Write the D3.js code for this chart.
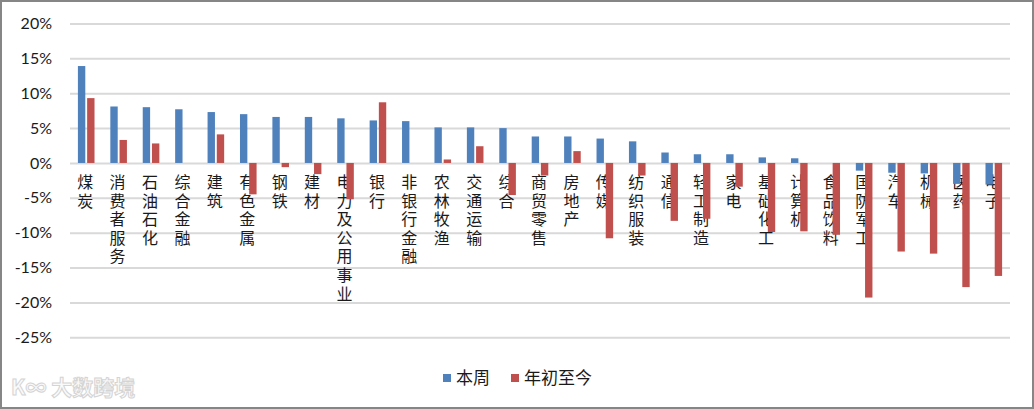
<!DOCTYPE html>
<html>
<head>
<meta charset="utf-8">
<script src="https://cdn.jsdelivr.net/npm/d3@7"></script>
<style>
  html, body { margin: 0; padding: 0; background: #fff; }
  svg { display: block; }
</style>
</head>
<body>
<svg id="chart" width="1034" height="409"></svg>
<script>
const categories = ["煤炭","消费者服务","石油石化","综合金融","建筑","有色金属","钢铁","建材","电力及公用事业","银行","非银行金融","农林牧渔","交通运输","综合","商贸零售","房地产","传媒","纺织服装","通信","轻工制造","家电","基础化工","计算机","食品饮料","国防军工","汽车","机械","医药","电子"];
const weekValues = [13.9,8.1,8.0,7.7,7.3,7.0,6.6,6.6,6.4,6.1,6.0,5.1,5.1,5.0,3.8,3.8,3.5,3.1,1.5,1.25,1.25,0.8,0.67,0.0,-1.1,-1.4,-1.5,-3.0,-3.1];
const ytdValues = [9.3,3.3,2.8,0.0,4.1,-4.5,-0.6,-1.6,-5.2,8.7,0.0,0.5,2.4,-4.6,-1.8,1.7,-10.8,-1.8,-8.3,-8.0,-3.4,-9.9,-9.8,-10.3,-19.3,-12.7,-13.0,-17.8,-16.2];
const seriesNames = ["本周","年初至今"];
const seriesColors = ["#4f81bd","#c0504d"];
const yTicks = [-25,-20,-15,-10,-5,0,5,10,15,20];

(function () {
const svg = d3.select("#chart");
const W = 1034, H = 409;

// frame
svg.append("rect").attr("x",1).attr("y",1).attr("width",W-2).attr("height",H-2)
  .attr("fill","#fff").attr("stroke","#868686").attr("stroke-width",2);

const mLeft = 70, mRight = 1010, mTop = 23.5, mBottom = 337.3;

const x = d3.scaleBand().domain(categories).range([mLeft, mRight]).padding(0);
const xs = d3.scaleBand().domain(seriesNames).range([-8.3, 8.3]).paddingInner(0.2).paddingOuter(0);
const y = d3.scaleLinear().domain([-25, 20]).range([mBottom, mTop]);

// gridlines + y axis
const yAxis = d3.axisLeft(y).tickValues(yTicks).tickSize(-(mRight-mLeft)).tickPadding(18)
  .tickFormat(d => d + "%");
const gy = svg.append("g").attr("transform", `translate(${mLeft},0)`).call(yAxis);
gy.select(".domain").remove();
gy.selectAll(".tick line").attr("stroke","#d9d9d9").attr("stroke-width",2);
gy.selectAll(".tick text").attr("fill","#1a1a1a").style("font-family","Lato, 'Open Sans', sans-serif").style("font-size","16px");

// x labels (vertical), drawn beneath the bars
svg.append("g").selectAll("text").data(categories).join("text")
  .attr("x", d => x(d) + x.bandwidth()/2 - 1)
  .attr("y", 174)
  .style("writing-mode","vertical-rl")
  .style("text-orientation","upright")
  .style("font-family","'Noto Sans CJK SC', sans-serif")
  .style("font-size","16px")
  .style("letter-spacing","2.6px")
  .attr("fill","#1a1a1a")
  .text(d => d);

// bars
const data = categories.map((c,i) => ({cat:c, vals:[weekValues[i], ytdValues[i]]}));
const groups = svg.append("g").selectAll("g").data(data).join("g")
  .attr("transform", d => `translate(${x(d.cat) + x.bandwidth()/2},0)`);
groups.selectAll("rect").data(d => d.vals.map((v,j) => ({v, s:seriesNames[j], j})))
  .join("rect")
  .attr("x", d => xs(d.s))
  .attr("width", xs.bandwidth())
  .attr("y", d => y(Math.max(0, d.v)))
  .attr("height", d => Math.abs(y(d.v) - y(0)))
  .attr("fill", d => seriesColors[d.j]);

// legend
const legend = svg.append("g").attr("transform","translate(443,378)");
const litems = [{name:seriesNames[0], color:seriesColors[0], dx:0},{name:seriesNames[1], color:seriesColors[1], dx:68}];
const li = legend.selectAll("g").data(litems).join("g").attr("transform", d => `translate(${d.dx},0)`);
li.append("rect").attr("x",0).attr("y",-4).attr("width",8).attr("height",8).attr("fill", d => d.color);
li.append("text").attr("x",13).attr("y",0).attr("dy","0.35em")
  .style("font-family","'Noto Sans CJK SC', sans-serif").style("font-size","17px")
  .attr("fill","#1a1a1a").text(d => d.name);

// watermark
const wm = svg.append("g").attr("transform","translate(11,388)");
wm.append("text").attr("x",0).attr("y",0).attr("dy","0.35em")
  .style("font-family","'Noto Sans CJK SC', sans-serif").style("font-size","21px").style("font-weight","bold")
  .attr("fill","#fafafa").attr("stroke","#d4d4d4").attr("stroke-width",1)
  .text("K∞ 大数跨境");
})();
</script>
</body>
</html>
